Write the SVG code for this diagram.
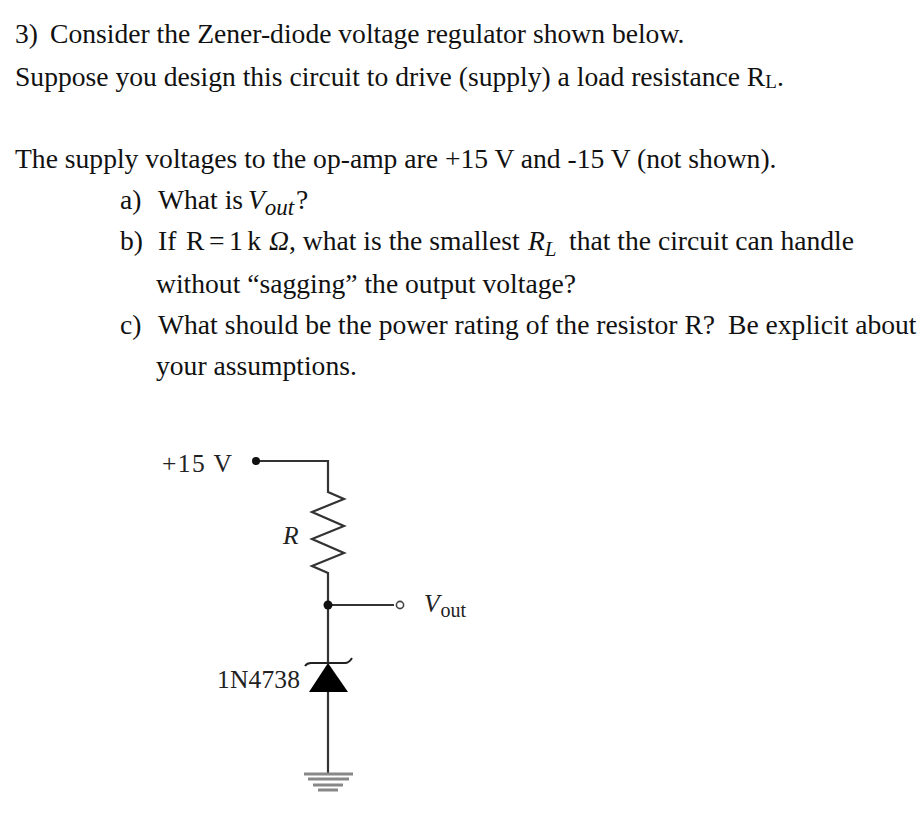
<svg xmlns="http://www.w3.org/2000/svg" width="922" height="816" viewBox="0 0 922 816">
<style>
text{font-family:"Liberation Serif","Times New Roman",serif;fill:#111}
.q{font-size:27.6px}
.c{font-size:25.5px;fill:#222}
.s{font-size:20px}
.w{fill:none;stroke:#333;stroke-width:2.2}
.g{stroke:#888;stroke-width:3}
</style>
<rect width="922" height="816" fill="#fff"/>
<g id="question">
<text class="q" x="15" y="43">3)</text><text class="q" x="50" y="43">Consider the Zener-diode voltage regulator shown below.</text>
<text class="q" x="15" y="86">Suppose you design this circuit to drive (supply) a load resistance R<tspan font-size="19" dy="2">L</tspan><tspan dy="-2">.</tspan></text>
<text class="q" x="15" y="168">The supply voltages to the op-amp are +15 V and -15 V (not shown).</text>
<text class="q" x="120" y="209">a)</text><text class="q" x="158" y="209">What is</text><text class="q" x="248" y="209" font-style="italic">V<tspan font-size="23" dy="6">out</tspan></text><text class="q" x="296" y="209">?</text>
<text class="q" x="120" y="250">b)</text><text class="q" x="158" y="250">If</text><text class="q" x="186" y="250" textLength="75">R = 1 k</text><text class="q" x="269" y="250" font-style="italic">Ω</text><text class="q" x="289" y="250">, what is the smallest</text><text class="q" x="528" y="250" font-style="italic">R<tspan font-size="21" dy="6">L</tspan></text><text class="q" x="569" y="250" textLength="285">that the circuit can handle</text>
<text class="q" x="156" y="293">without “sagging” the output voltage?</text>
<text class="q" x="120" y="334">c)</text><text class="q" x="158" y="334">What should be the power rating of the resistor R?</text><text class="q" x="728" y="334">Be explicit about</text>
<text class="q" x="156" y="375">your assumptions.</text>
</g>
<g id="connectors">
<path class="w" d="M256 461H328V492L344 499L312 512L344 526L312 539L344 553L312 566L328 573V605H394"/>
<path class="w" d="M328 605V663M328 692V774"/>
</g>
<g id="supply"><circle cx="256" cy="461" r="4" fill="#111"/><text class="c" x="162" y="472" textLength="70">+15 V</text></g>
<g id="resistor"><text class="c" x="283" y="544" font-style="italic">R</text></g>
<g id="junction"><circle cx="328" cy="605" r="4.5" fill="#111"/></g>
<g id="output"><circle cx="400" cy="605" r="3.6" fill="#fff" stroke="#444" stroke-width="1.6"/><text class="c" x="424" y="612" font-style="italic">V<tspan class="s" font-style="normal" dy="5" dx="1">out</tspan></text></g>
<g id="zener">
<path d="M328 663L309 692H348Z" fill="#000"/>
<path d="M305 666Q307 663 311 663H345Q349 663 352 658" fill="none" stroke="#222" stroke-width="2"/>
<text class="c" x="217" y="688" textLength="83">1N4738</text>
</g>
<g id="ground">
<path class="g" d="M304 774H353M308 779H349M313 785H343M318 790H338"/>
</g>
</svg>
